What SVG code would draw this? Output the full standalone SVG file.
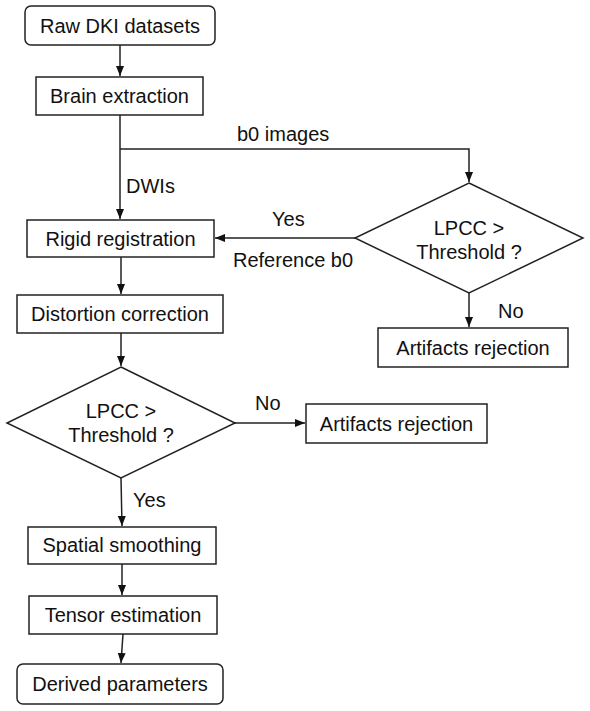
<svg xmlns="http://www.w3.org/2000/svg" width="590" height="711" viewBox="0 0 590 711">
<defs>
<marker id="ah" markerWidth="10" markerHeight="10" refX="10" refY="5" orient="auto" markerUnits="userSpaceOnUse">
<path d="M0,1 L10,5 L0,9 Z" fill="#111"/>
</marker>
<style>
.box{fill:#fff;stroke:#222;stroke-width:1.5}
.t{font-family:"Liberation Sans",Arial,sans-serif;font-size:20px;fill:#111;text-anchor:middle}
.l{font-family:"Liberation Sans",Arial,sans-serif;font-size:20px;fill:#111}
.c{fill:none;stroke:#222;stroke-width:1.5}
</style>
</defs>
<rect width="590" height="711" fill="#fff"/>
<g id="connectors">
<line class="c" x1="120" y1="45" x2="120" y2="76" marker-end="url(#ah)"/>
<line class="c" x1="120" y1="115" x2="120" y2="219" marker-end="url(#ah)"/>
<polyline class="c" points="120,149 469,149 469,182" marker-end="url(#ah)"/>
<line class="c" x1="355" y1="238" x2="215" y2="238" marker-end="url(#ah)"/>
<line class="c" x1="469" y1="293" x2="469" y2="327" marker-end="url(#ah)"/>
<line class="c" x1="121" y1="257" x2="121" y2="294" marker-end="url(#ah)"/>
<line class="c" x1="121" y1="333" x2="121" y2="366" marker-end="url(#ah)"/>
<line class="c" x1="235" y1="423" x2="305" y2="423" marker-end="url(#ah)"/>
<line class="c" x1="121" y1="478" x2="122" y2="526" marker-end="url(#ah)"/>
<line class="c" x1="122" y1="564" x2="122" y2="595" marker-end="url(#ah)"/>
<line class="c" x1="123" y1="634" x2="121" y2="663" marker-end="url(#ah)"/>
<text class="l" x="237" y="141">b0 images</text>
<text class="l" x="126" y="193">DWIs</text>
<text class="l" x="272" y="226">Yes</text>
<text class="l" x="233" y="267">Reference b0</text>
<text class="l" x="498" y="318">No</text>
<text class="l" x="255" y="410">No</text>
<text class="l" x="133" y="507">Yes</text>
</g>
<g id="raw">
<rect class="box" x="25" y="6" width="190" height="39" rx="6"/>
<text class="t" x="120" y="33">Raw DKI datasets</text>
</g>
<g id="brain">
<rect class="box" x="36" y="77" width="167" height="38"/>
<text class="t" x="119.5" y="103">Brain extraction</text>
</g>
<g id="rigid">
<rect class="box" x="27" y="220" width="187" height="37"/>
<text class="t" x="120.5" y="246">Rigid registration</text>
</g>
<g id="decision1">
<polygon class="box" points="469,183 583,238 469,293 355,238"/>
<text class="t" x="469" y="235">LPCC &gt;</text>
<text class="t" x="469" y="259">Threshold ?</text>
</g>
<g id="reject1">
<rect class="box" x="378" y="328" width="190" height="39"/>
<text class="t" x="473" y="355">Artifacts rejection</text>
</g>
<g id="distortion">
<rect class="box" x="17" y="295" width="206" height="38"/>
<text class="t" x="120" y="321">Distortion correction</text>
</g>
<g id="decision2">
<polygon class="box" points="121,367 235,423 121,478 7,423"/>
<text class="t" x="121" y="418">LPCC &gt;</text>
<text class="t" x="121" y="442">Threshold ?</text>
</g>
<g id="reject2">
<rect class="box" x="306" y="404" width="181" height="39"/>
<text class="t" x="396.5" y="431">Artifacts rejection</text>
</g>
<g id="smoothing">
<rect class="box" x="28" y="527" width="188" height="37"/>
<text class="t" x="122" y="552">Spatial smoothing</text>
</g>
<g id="tensor">
<rect class="box" x="29" y="596" width="188" height="38"/>
<text class="t" x="123" y="622">Tensor estimation</text>
</g>
<g id="derived">
<rect class="box" x="17" y="664" width="206" height="40" rx="6"/>
<text class="t" x="120" y="691">Derived parameters</text>
</g>
</svg>
